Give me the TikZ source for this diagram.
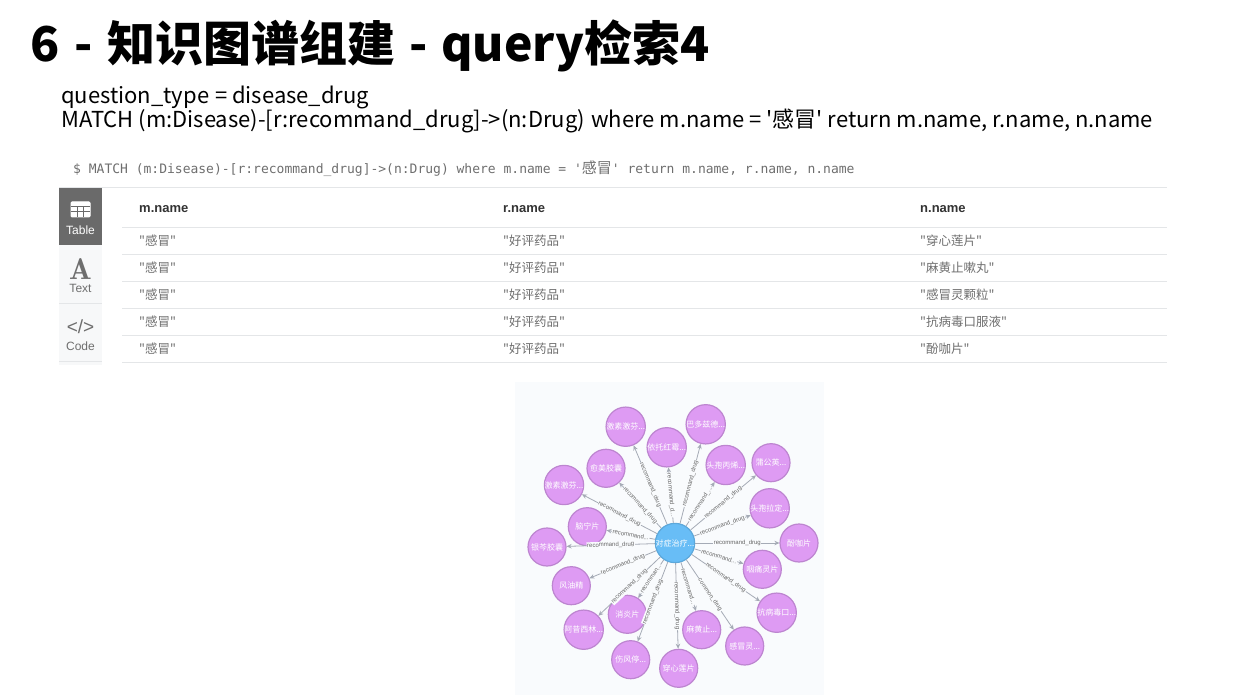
\documentclass[tikz,border=0pt]{standalone}
\usepackage{fontspec}
\setmainfont{Liberation Sans}
\setmonofont{DejaVu Sans Mono}
\newfontfamily\cjk{Noto Sans CJK SC}
\usepackage{xcolor}
\usetikzlibrary{arrows.meta}
\definecolor{graphbg}{HTML}{F9FBFD}
\definecolor{tabdark}{HTML}{6A6A6A}
\definecolor{tablight}{HTML}{F7F8F9}
\definecolor{hairline}{HTML}{E4E6E8}
\definecolor{cellgray}{HTML}{6E6E6E}
\definecolor{drugfill}{HTML}{DE9BF3}
\definecolor{drugline}{HTML}{BD85D0}
\definecolor{hubfill}{HTML}{68BDF6}
\definecolor{hubline}{HTML}{5CA8DB}
\definecolor{edgegray}{HTML}{A5ABB6}

\begin{document}
\begin{tikzpicture}[
    x=1pt, y=-1pt,
    title/.style={anchor=base west, inner sep=0pt, font=\cjk\fontsize{48}{48}\selectfont\bfseries, text=black},
    sub/.style={anchor=base west, inner sep=0pt, font=\cjk\fontsize{22}{22}\selectfont, text=black},
    cmd/.style={anchor=base west, inner sep=0pt, font=\ttfamily\fontsize{13}{13}\selectfont, text=cellgray},
    head/.style={anchor=base west, inner sep=0pt, font=\fontsize{13}{13}\selectfont\bfseries, text=black!80},
    cell/.style={anchor=base west, inner sep=0pt, font=\cjk\fontsize{12.5}{12.5}\selectfont, text=cellgray},
    tab/.style={anchor=center, inner sep=0pt, font=\fontsize{12}{12}\selectfont, text=cellgray},
    rule/.style={draw=hairline, line width=0.8pt},
    drug/.style={circle, minimum size=38pt, inner sep=0pt, draw=drugline, line width=1.2pt,
                 fill=drugfill, text=white, font=\cjk\fontsize{8}{8}\selectfont},
    hub/.style={drug, draw=hubline, fill=hubfill},
    rel/.style={-{Stealth[length=5pt, width=4.5pt]}, draw=edgegray, line width=0.8pt},
    lab/.style={midway, sloped, fill=graphbg, inner sep=0.6pt, text=black!60,
                font=\fontsize{6}{6}\selectfont},
  ]
  \useasboundingbox (0,0) rectangle (1240,695);
  % ---- heading ----
  \node[title] (heading) at (30,62) {6\hspace{4pt} - \hspace{4pt}知识图谱组建\hspace{2.5pt} - \hspace{2.5pt}query检索4};
  \node[sub] (qtype) at (61,104) {question\_type \hspace{1pt}= disease\_drug};
  \node[sub] (qline) at (61,128) {MATCH (m:Disease)-[r:recommand\_drug]->(n:Drug) \hspace{1pt}where m.name = '感冒' return m.name, r.name, n.name};
  \node[cmd] (prompt) at (73,174) {\$ MATCH (m:Disease)-[r:recommand\_drug]->(n:Drug) where m.name = '{\cjk\fontsize{15}{15}\selectfont 感冒}' return m.name, r.name, n.name};
  % ---- side tabs ----
  \fill[tabdark] (59,188) rectangle (102,245);
  \fill[tablight] (59,245) rectangle (102,365);
  \draw[rule] (59,303) -- (102,303);
  \draw[rule] (59,361) -- (102,361);
  \draw[white, line width=1pt, rounded corners=1pt, fill=white] (71,202) rectangle (90,217);
  \draw[tabdark, line width=1pt] (71,207) -- (90,207) (71,212) -- (90,212) (77.3,207) -- (77.3,217) (83.6,207) -- (83.6,217);
  \node[tab, text=white] (tabtable) at (80.5,230) {Table};
  \node[tab, font=\fontfamily{lmr}\fontsize{30}{30}\selectfont\bfseries] (iconA) at (80.5,269) {A};
  \node[tab] (tabtext) at (80.5,288) {Text};
  \node[tab, font=\fontsize{19}{19}\selectfont] (iconcode) at (80.5,327) {</>};
  \node[tab] (tabcode) at (80.5,346) {Code};
  % ---- table ----
  \draw[rule] (59,187) -- (1167,187);
  \draw[rule] (122,227) -- (1167,227);
  \draw[rule] (122,254) -- (1167,254);
  \draw[rule] (122,281) -- (1167,281);
  \draw[rule] (122,308) -- (1167,308);
  \draw[rule] (122,335) -- (1167,335);
  \draw[rule] (122,362) -- (1167,362);
  \node[head] (hm) at (139,213) {m.name};
  \node[head] (hr) at (503,213) {r.name};
  \node[head] (hn) at (920,213) {n.name};
  \node[cell] (m1) at (139,245.6) {"感冒"};
  \node[cell] (r1) at (503,245.6) {"好评药品"};
  \node[cell] (n1) at (920,245.6) {"穿心莲片"};
  \node[cell] (m2) at (139,272.6) {"感冒"};
  \node[cell] (r2) at (503,272.6) {"好评药品"};
  \node[cell] (n2) at (920,272.6) {"麻黄止嗽丸"};
  \node[cell] (m3) at (139,299.6) {"感冒"};
  \node[cell] (r3) at (503,299.6) {"好评药品"};
  \node[cell] (n3) at (920,299.6) {"感冒灵颗粒"};
  \node[cell] (m4) at (139,326.6) {"感冒"};
  \node[cell] (r4) at (503,326.6) {"好评药品"};
  \node[cell] (n4) at (920,326.6) {"抗病毒口服液"};
  \node[cell] (m5) at (139,353.6) {"感冒"};
  \node[cell] (r5) at (503,353.6) {"好评药品"};
  \node[cell] (n5) at (920,353.6) {"酚咖片"};
  % ---- graph ----
  \fill[graphbg] (515,382) rectangle (824,695);
  \node[hub]  (cure) at (675,543)     {对症治疗...};
  \node[drug] (jisu) at (625.7,426.7) {激素激芬...};
  \node[drug] (baduo) at (705.7,424.3) {巴多兹德...};
  \node[drug] (yituo) at (666.7,447.3) {依托红霉...};
  \node[drug] (baobing) at (725.7,465) {头孢丙烯...};
  \node[drug] (pugong) at (771,462.7) {蒲公英...};
  \node[drug] (yumei) at (606,468.3)  {愈美胶囊};
  \node[drug] (jisub) at (564,485)    {激素激芬...};
  \node[drug] (baola) at (769.7,508.3) {头孢拉定...};
  \node[drug] (naoning) at (587.3,526.7) {脑宁片};
  \node[drug] (fenka) at (799,543)    {酚咖片};
  \node[drug] (yinqin) at (547,547)   {银芩胶囊};
  \node[drug] (yantong) at (762.3,569.3) {咽痛灵片};
  \node[drug] (fengyou) at (571.3,585.7) {风油精};
  \node[drug] (kangbing) at (776.7,612.7) {抗病毒口...};
  \node[drug] (xiaoyan) at (627.3,614.3) {消炎片};
  \node[drug] (axi) at (583.7,629.7)  {阿昔西林...};
  \node[drug] (mahuang) at (701.7,629.7) {麻黄止...};
  \node[drug] (ganmao) at (744.7,646) {感冒灵...};
  \node[drug] (shangfeng) at (630.7,659.7) {伤风停...};
  \node[drug] (chuanxin) at (678.7,668.3) {穿心莲片};
  % ---- arrows ----
  \draw[rel] (cure) -- (jisu) node[lab] {recommand\_drug};
  \draw[rel] (cure) -- (baduo) node[lab] {recommand\_drug};
  \draw[rel] (cure) -- (yituo) node[lab] {recommand\_d...};
  \draw[rel] (cure) -- (baobing) node[lab] {recommand\_...};
  \draw[rel] (cure) -- (pugong) node[lab] {recommand\_drug};
  \draw[rel] (cure) -- (yumei) node[lab] {recommand\_drug};
  \draw[rel] (cure) -- (jisub) node[lab] {recommand\_drug};
  \draw[rel] (cure) -- (baola) node[lab] {recommand\_drug};
  \draw[rel] (cure) -- (naoning) node[lab] {recommand...};
  \draw[rel] (cure) -- (fenka) node[lab] {recommand\_drug};
  \draw[rel] (cure) -- (yinqin) node[lab] {recommand\_drug};
  \draw[rel] (cure) -- (yantong) node[lab] {recommand...};
  \draw[rel] (cure) -- (fengyou) node[lab] {recommand\_drug};
  \draw[rel] (cure) -- (kangbing) node[lab] {recommand\_drug};
  \draw[rel] (cure) -- (xiaoyan) node[lab] {recomman...};
  \draw[rel] (cure) -- (axi) node[lab] {recommand\_drug};
  \draw[rel] (cure) -- (mahuang) node[lab] {recommand...};
  \draw[rel] (cure) -- (ganmao) node[lab] {common\_drug};
  \draw[rel] (cure) -- (shangfeng) node[lab] {recommand\_drug};
  \draw[rel] (cure) -- (chuanxin) node[lab] {recommand\_drug};
\end{tikzpicture}
\end{document}
